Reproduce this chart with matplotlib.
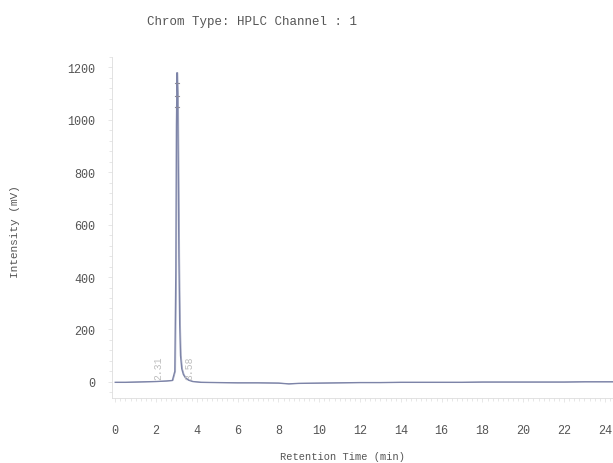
import numpy as np
import matplotlib.pyplot as plt
from matplotlib.ticker import MultipleLocator

# chromatogram trace (min, mV)
time_min = [0.0, 0.5, 1.0, 1.5, 2.0, 2.5, 2.8, 2.92, 2.97, 3.0, 3.03, 3.06,
            3.09, 3.12, 3.16, 3.2, 3.26, 3.34, 3.45, 3.6, 3.8, 4.2, 5.0,
            6.0, 7.0, 8.0, 8.5, 9.0, 10.0, 11.0, 12.0, 13.0, 14.0, 15.0,
            16.0, 17.0, 18.0, 19.0, 20.0, 21.0, 22.0, 23.0, 24.0, 24.4]
intensity = [-2, -2, -1, 0, 1, 3, 5, 40, 420, 980, 1180, 1100,
             820, 480, 220, 100, 50, 28, 14, 6, 1, -2, -3,
             -4, -4, -5, -8, -6, -5, -4, -3, -3, -2, -2,
             -2, -2, -1, -1, -1, -1, -1, 0, 0, 0]

peak_labels = ["2.31", "3.58"]
peak_label_x = [2.1, 3.65]

x_ticks = list(range(0, 25, 2))
y_ticks = [0, 200, 400, 600, 800, 1000, 1200]

plt.rcParams['font.family'] = ['Liberation Mono', 'DejaVu Sans Mono']

fig = plt.figure(figsize=(6.13, 4.64), dpi=100)
ax = fig.add_axes([0.183, 0.14, 0.817, 0.735])

line_col = '#7d84a8'
txt_col = '#555555'

ax.plot(time_min, intensity, color=line_col, lw=1.0)
ax.plot(np.array(time_min) + 0.04, intensity, color=line_col, lw=0.6, alpha=0.6)

for lab, xp in zip(peak_labels, peak_label_x):
    ax.text(xp, 12, lab, rotation=90, fontsize=7, color='#bdbdbd',
            ha='center', va='bottom')

# small markers near the peak top
for yy in [1140, 1090, 1050]:
    ax.plot([2.95, 3.15], [yy, yy], color='#8a8a9a', lw=0.8)

ax.set_xlim(-0.15, 24.4)
ax.set_ylim(-62, 1240)
ax.set_xticks(x_ticks)
ax.set_yticks(y_ticks)
ax.xaxis.set_minor_locator(MultipleLocator(0.25))
ax.yaxis.set_minor_locator(MultipleLocator(40))

for s in ['top', 'right']:
    ax.spines[s].set_visible(False)
ax.spines['left'].set_color('#dddddd')
ax.spines['left'].set_linewidth(0.6)
ax.spines['bottom'].set_color('#dddddd')
ax.spines['bottom'].set_linestyle((0, (1, 1)))
ax.spines['bottom'].set_linewidth(0.6)

ax.tick_params(axis='both', which='both', colors='#dddddd', length=3, width=0.5)
ax.tick_params(axis='both', which='minor', length=2)
ax.tick_params(axis='x', which='major', pad=16, labelcolor=txt_col, labelsize=8.5)
ax.tick_params(axis='y', which='major', pad=9, labelcolor=txt_col, labelsize=8.5)

fig.text(0.411, 0.952, 'Chrom Type: HPLC Channel : 1', ha='center', va='center',
         fontsize=9, color=txt_col)
fig.text(0.558, 0.015, 'Retention Time (min)', ha='center', va='center',
         fontsize=7.5, color=txt_col)
fig.text(0.024, 0.5, 'Intensity (mV)', ha='center', va='center',
         rotation=90, fontsize=8, color=txt_col)

fig.savefig('out.png', dpi=100)
